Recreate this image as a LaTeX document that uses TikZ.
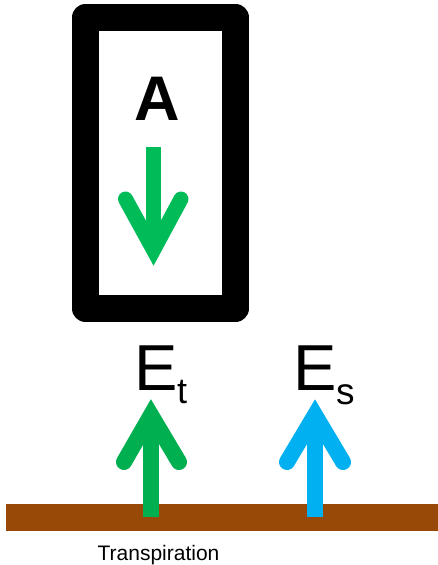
\documentclass[tikz,border=0pt]{standalone}
\usepackage{fontspec}
\setmainfont{Liberation Sans}
\usetikzlibrary{calc}
\definecolor{leafgreen}{HTML}{00B050}
\definecolor{lightgreen}{HTML}{00BC58}
\definecolor{skyblue}{HTML}{00B0F0}
\definecolor{soil}{HTML}{984807}
\tikzset{
  shaft/.style={line width=#1pt, line cap=butt},
  head/.style={line width=#1pt, line cap=round, line join=miter},
  lbl/.style={inner sep=0pt, outer sep=0pt, anchor=base west},
}
\begin{document}
\begin{tikzpicture}[x=1pt,y=-1pt]
\useasboundingbox (0,0) rectangle (438,565);
% box
\node[draw, line width=27pt, line join=round, minimum width=150pt, minimum height=291pt, inner sep=0pt] (box) at (160.5,163) {};
\node[inner sep=0pt, anchor=base, font=\fontsize{63}{63}\selectfont\bfseries] (A) at (157,120) {A};
% down arrow
\coordinate (dtop) at (153.5,147);
\coordinate (dcorner) at (153.5,250);
\draw[lightgreen, shaft=15] (dtop) -- ($(dcorner)+(0,-10)$);
\draw[lightgreen, head=15] ($(dcorner)+(-28,-51)$) -- (dcorner) -- ($(dcorner)+(27.5,-51)$);
% ground
\node[fill=soil, minimum width=432pt, minimum height=27pt, inner sep=0pt, anchor=north west] (ground) at (6,504) {};
% labels
\node[lbl, font=\fontsize{65}{65}\selectfont] (Et) at (134,390) {E};
\node[lbl, font=\fontsize{36}{36}\selectfont] (t) at (177,403) {t};
\node[lbl, font=\fontsize{65}{65}\selectfont] (Es) at (293,390) {E};
\node[lbl, font=\fontsize{37}{37}\selectfont] (s) at (336,404) {s};
\node[inner sep=0pt, anchor=base, font=\fontsize{21}{21}\selectfont] (tr) at (158.5,560) {Transpiration};
% up arrows
\coordinate (gbase) at (151,517);
\coordinate (gcorner) at (151,415);
\draw[leafgreen, shaft=16] (gbase) -- ($(gcorner)+(0,10)$);
\draw[leafgreen, head=16] ($(gcorner)+(-27,47)$) -- (gcorner) -- ($(gcorner)+(28,47)$);
\coordinate (bbase) at (315,517);
\coordinate (bcorner) at (315,415);
\draw[skyblue, shaft=16] (bbase) -- ($(bcorner)+(0,10)$);
\draw[skyblue, head=16] ($(bcorner)+(-28,47)$) -- (bcorner) -- ($(bcorner)+(28,47)$);
\end{tikzpicture}
\end{document}
